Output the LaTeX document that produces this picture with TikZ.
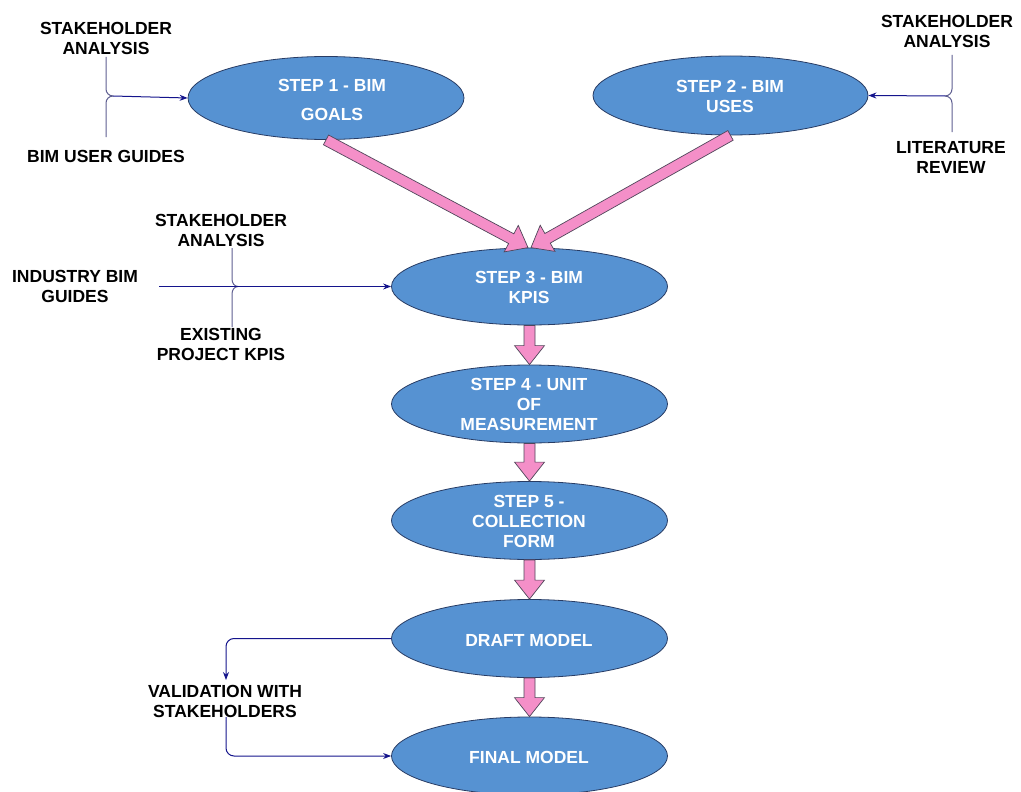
\documentclass[tikz,border=0pt]{standalone}
\usepackage{fontspec}
\setmainfont{Liberation Sans}
\usetikzlibrary{arrows.meta,calc,shapes.geometric}
\definecolor{ellfill}{RGB}{86,146,210}
\definecolor{elldraw}{RGB}{40,60,100}
\definecolor{pinkf}{RGB}{244,143,200}
\definecolor{pinkd}{RGB}{80,70,90}
\definecolor{navyc}{RGB}{20,20,140}
\definecolor{slatec}{RGB}{95,95,145}
\newcommand\blockarr[2]{%
  \path (#1) coordinate (baA) (#2) coordinate (baB);
  \path ($(baB)!19pt!(baA)$) coordinate (baH);
  \draw[blockar] ($(baA)!5.5pt!90:(baB)$) -- ($(baH)!5.5pt!-90:(baA)$) -- ($(baH)!15pt!-90:(baA)$) -- (baB) -- ($(baH)!15pt!90:(baA)$) -- ($(baH)!5.5pt!90:(baA)$) -- ($(baA)!5.5pt!-90:(baB)$) -- cycle;
}
\tikzset{
  stepell/.style={ellipse, draw=elldraw, fill=ellfill, line width=0.8pt, minimum width=276pt, minimum height=78pt, inner sep=0pt},
  steptext/.style={text=white, font=\bfseries\fontsize{17.5}{20}\selectfont, align=center, inner sep=0pt},
  lbl/.style={text=black, font=\bfseries\fontsize{17.5}{20}\selectfont, align=center, inner sep=0pt},
  blockar/.style={fill=pinkf, draw=pinkd, line width=0.7pt, line join=miter},
  bracel/.style={draw=slatec, line width=1pt},
  inarrow/.style={draw=navyc, line width=1pt, -{Stealth[length=8pt,width=6pt]}},
}
\begin{document}
\begin{tikzpicture}[x=1pt,y=-1pt]
\useasboundingbox (0,0) rectangle (1021,792);
\fill[white] (0,0) rectangle (1021,792);

% ellipses
\node[stepell, minimum width=276pt, minimum height=83pt] (s1) at (326,98) {};
\node[stepell, minimum width=275pt, minimum height=79pt] (s2) at (730.5,95.5) {};
\node[stepell, minimum height=77pt] (s3) at (529.5,286.5) {};
\node[stepell] (s4) at (529.5,404) {};
\node[stepell] (s5) at (529.5,520.5) {};
\node[stepell] (dm) at (529.5,638.5) {};
\node[stepell] (fm) at (529.5,756) {};

\node[steptext] (s1t) at (332,100) {STEP 1 - BIM\\[9pt]GOALS};
\node[steptext] (s2t) at (730,96) {STEP 2 - BIM\\USES};
\node[steptext] (s3t) at (529,287) {STEP 3 - BIM\\KPIS};
\node[steptext] (s4t) at (529,404) {STEP 4 - UNIT\\OF\\MEASUREMENT};
\node[steptext] (s5t) at (529,521) {STEP 5 -\\COLLECTION\\FORM};
\node[steptext] (dmt) at (529,640) {DRAFT MODEL};
\node[steptext] (fmt) at (529,757) {FINAL MODEL};

% block arrows
\blockarr{s1.south}{$(s3.north)+(-1.5,0)$}
\blockarr{s2.south}{$(s3.north)+(1.5,0)$}
\blockarr{s3.south}{s4.north}
\blockarr{s4.south}{s5.north}
\blockarr{s5.south}{dm.north}
\blockarr{dm.south}{fm.north}

% labels
\node[lbl] (l1a) at (106,38) {STAKEHOLDER\\ANALYSIS};
\node[lbl] (l1b) at (106,156) {BIM USER GUIDES};
\node[lbl] (l2a) at (947,31) {STAKEHOLDER\\ANALYSIS};
\node[lbl] (l2b) at (951,157) {LITERATURE\\REVIEW};
\node[lbl] (l3a) at (221,230) {STAKEHOLDER\\ANALYSIS};
\node[lbl] (l3b) at (75,286) {INDUSTRY BIM\\GUIDES};
\node[lbl] (l3c) at (221,344) {EXISTING\\PROJECT KPIS};
\node[lbl] (lv) at (225,701) {VALIDATION WITH\\STAKEHOLDERS};

% brace 1
\coordinate (b1p) at (113,96);
\draw[bracel] (106,57) -- (106,89) to[out=-90,in=180] (b1p);
\draw[bracel] (b1p) to[out=180,in=90] (106,103) -- (106,137);
\draw[inarrow] (b1p) -- (s1.west);

% brace 2
\coordinate (b2p) at (945,96);
\draw[bracel] (952,55) -- (952,89) to[out=-90,in=0] (b2p);
\draw[bracel] (b2p) to[out=0,in=90] (952,103) -- (952,132);
\draw[inarrow] (b2p) -- (s2.east);

% brace 3
\coordinate (b3p) at (238,286.5);
\coordinate (b3s) at (159,286.5);
\draw[bracel] (232,248) -- (232,279) to[out=-90,in=180] (b3p);
\draw[bracel] (b3p) to[out=180,in=90] (232,294) -- (232,327);
\draw[inarrow] (b3s) -- (s3.west);

% validation loop
\coordinate (vt) at (226,680);
\coordinate (vb) at (226,717);
\draw[inarrow, rounded corners=8pt] (dm.west) -| (vt);
\draw[inarrow, rounded corners=8pt] (vb) |- (fm.west);
\end{tikzpicture}
\end{document}
